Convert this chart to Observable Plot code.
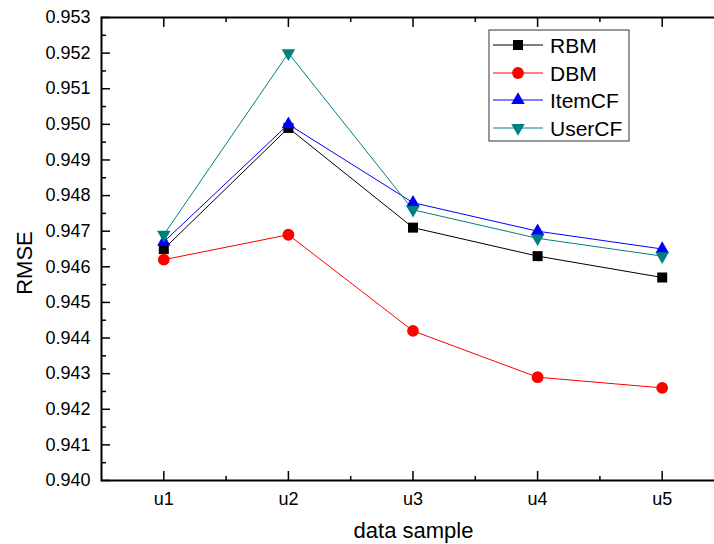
<!DOCTYPE html>
<html><head><meta charset="utf-8">
<script src="https://cdn.jsdelivr.net/npm/d3@7"></script>
<script src="https://cdn.jsdelivr.net/npm/@observablehq/plot@0.6"></script>
<style>
body{margin:0;background:#fff;}
#chart{position:relative;width:714px;height:544px;overflow:hidden;}
</style>
</head><body><div id="chart"></div>
<script>
const categories = ["u1", "u2", "u3", "u4", "u5"];
const seriesNames = ["RBM", "DBM", "ItemCF", "UserCF"];
const rbm    = [0.9465, 0.9499, 0.9471, 0.9463, 0.9457];
const dbm    = [0.9462, 0.9469, 0.9442, 0.9429, 0.9426];
const itemCF = [0.9467, 0.9500, 0.9478, 0.9470, 0.9465];
const userCF = [0.9469, 0.9520, 0.9476, 0.9468, 0.9463];
const yTicks = [0.940, 0.941, 0.942, 0.943, 0.944, 0.945, 0.946, 0.947, 0.948, 0.949, 0.950, 0.951, 0.952, 0.953];
const yMinorTicks = [0.9405, 0.9415, 0.9425, 0.9435, 0.9445, 0.9455, 0.9465, 0.9475, 0.9485, 0.9495, 0.9505, 0.9515, 0.9525];
const xTicks = [1, 2, 3, 4, 5];
const xMinorTicks = [1.5, 2.5, 3.5, 4.5];
const xLabel = "data sample";
const yLabel = "RMSE";
const colors = ["#000000", "#ff0000", "#0000ff", "#008080"];

const values = [rbm, dbm, itemCF, userCF];
const data = [];
seriesNames.forEach((s, si) => values[si].forEach((v, i) => data.push({series: s, x: i + 1, cat: categories[i], value: v})));

const triangleDown = {
  draw(context, size) {
    const y = -Math.sqrt(size / (Math.sqrt(3) * 3));
    context.moveTo(0, -y * 2);
    context.lineTo(-Math.sqrt(3) * y, y);
    context.lineTo(Math.sqrt(3) * y, y);
    context.closePath();
  }
};
const symbols = ["square", "circle", "triangle", triangleDown];
const radii = [5.64, 5.9, 5.0, 5.0];
const font = "'Liberation Sans', Arial, sans-serif";

const tickStyle = {stroke: "black", strokeWidth: 1.5, tickFormat: () => "", label: null};

const plot = Plot.plot({
  width: 714,
  height: 544,
  marginLeft: 101,
  marginRight: -10,
  marginTop: 17,
  marginBottom: 64,
  style: {overflow: "hidden", fontFamily: font, background: "white", color: "black"},
  x: {domain: [0.5, 5.5]},
  y: {domain: [0.940, 0.953]},
  marks: [
    Plot.axisY(yTicks, {tickSize: 0, tickPadding: 11, tickFormat: d3.format(".3f"), fontSize: 18, label: null, fill: "black"}),
    Plot.axisY(yTicks, {...tickStyle, tickSize: -9}),
    Plot.axisY(yMinorTicks, {...tickStyle, tickSize: -5}),
    Plot.axisX(xTicks, {tickSize: 0, tickPadding: 12, tickFormat: i => categories[i - 1], fontSize: 18, label: null, fill: "black"}),
    Plot.axisX(xTicks, {...tickStyle, tickSize: -9}),
    Plot.axisX(xMinorTicks, {...tickStyle, tickSize: -4}),
    Plot.axisX(xTicks, {...tickStyle, anchor: "top", tickSize: -9}),
    Plot.axisX(xMinorTicks, {...tickStyle, anchor: "top", tickSize: -4}),
    Plot.frame({stroke: "black", strokeWidth: 2}),
    ...seriesNames.map((s, si) => Plot.line(data.filter(d => d.series === s), {x: "x", y: "value", stroke: colors[si], strokeWidth: 1})),
    ...seriesNames.map((s, si) => Plot.dot(data.filter(d => d.series === s), {x: "x", y: "value", symbol: symbols[si], r: radii[si], fill: colors[si], stroke: "none"}))
  ]
});

const chart = document.getElementById("chart");
chart.appendChild(plot);
const svg = d3.select(plot);

svg.append("text").attr("x", 413.5).attr("y", 538).attr("text-anchor", "middle")
  .attr("font-family", font).attr("font-size", 22).attr("fill", "black").text(xLabel);
svg.append("text").attr("transform", "translate(32,263) rotate(-90)").attr("text-anchor", "middle")
  .attr("font-family", font).attr("font-size", 22).attr("fill", "black").text(yLabel);

const lg = svg.append("g");
lg.append("rect").attr("x", 489).attr("y", 30).attr("width", 140).attr("height", 111)
  .attr("fill", "white").attr("stroke", "#333").attr("stroke-width", 1);
const rowY = [45, 73, 100, 128];
const d3Symbols = [d3.symbolSquare, d3.symbolCircle, d3.symbolTriangle, triangleDown];
seriesNames.forEach((s, si) => {
  const y = rowY[si];
  lg.append("line").attr("x1", 493).attr("x2", 543).attr("y1", y).attr("y2", y)
    .attr("stroke", colors[si]).attr("stroke-width", 1);
  lg.append("path").attr("transform", `translate(518,${y})`)
    .attr("d", d3.symbol(d3Symbols[si], Math.PI * radii[si] * radii[si])())
    .attr("fill", colors[si]);
  lg.append("text").attr("x", 550).attr("y", y).attr("dy", "0.36em").attr("text-anchor", "start")
    .attr("font-family", font).attr("font-size", 21).attr("fill", "black").text(s);
});
</script>
</body></html>
